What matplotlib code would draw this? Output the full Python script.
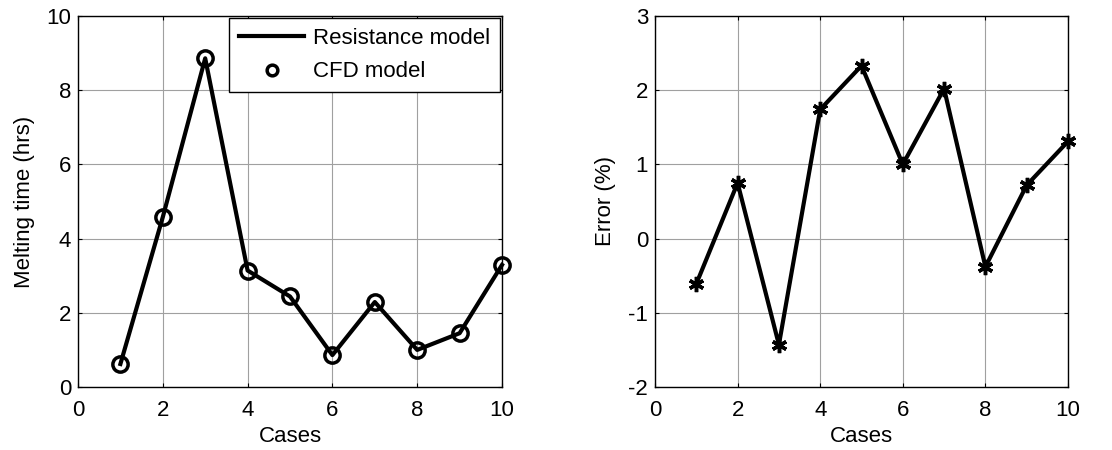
import numpy as np
import matplotlib
matplotlib.use("Agg")
import matplotlib.pyplot as plt

plt.rcParams['font.family'] = ['Liberation Sans', 'DejaVu Sans']
plt.rcParams['font.size'] = 16
plt.rcParams['axes.unicode_minus'] = False

cases = [1, 2, 3, 4, 5, 6, 7, 8, 9, 10]
melt_resistance = [0.62, 4.58, 8.86, 3.14, 2.44, 0.86, 2.29, 1.0, 1.45, 3.29]
melt_cfd = [0.62, 4.58, 8.86, 3.14, 2.44, 0.86, 2.29, 1.0, 1.45, 3.29]
error_pct = [-0.61, 0.75, -1.43, 1.74, 2.33, 1.0, 2.02, -0.38, 0.72, 1.31]

fig = plt.figure(figsize=(11.12, 4.5), dpi=100)
ax1 = fig.add_axes([78/1112, 1 - 387/450, 424/1112, 371/450])
ax2 = fig.add_axes([655/1112, 1 - 387/450, 413/1112, 371/450])


def matlab_style(ax):
    ax.grid(True, color='#a0a0a0', linewidth=0.8)
    ax.set_axisbelow(True)
    ax.tick_params(direction='in', top=True, right=True, length=3, width=0.8)
    ax.tick_params(axis='x', pad=9)
    ax.tick_params(axis='y', pad=5)
    for s in ax.spines.values():
        s.set_linewidth(1.0)


ax1.plot(cases, melt_resistance, color='black', linewidth=3, label='Resistance model', clip_on=False)
ax1.plot(cases, melt_cfd, linestyle='none', marker='o', markersize=11, markerfacecolor='none',
         markeredgecolor='black', markeredgewidth=2.5, label='CFD model', clip_on=False)
ax1.set_xlim(0, 10)
ax1.set_ylim(0, 10)
ax1.set_xticks(np.arange(0, 11, 2))
ax1.set_yticks(np.arange(0, 11, 2))
ax1.set_xlabel('Cases', labelpad=4)
ax1.set_ylabel('Melting time (hrs)', labelpad=8)
matlab_style(ax1)
leg = ax1.legend(loc='upper right', fancybox=False, edgecolor='black', framealpha=1,
                 borderaxespad=0.1, handlelength=2.9, handletextpad=0.4, labelspacing=0.55,
                 borderpad=0.45, markerscale=0.7, fontsize=16)
leg.get_frame().set_linewidth(1.0)

ax2.plot(cases, error_pct, color='black', linewidth=3, marker=(6, 2, 0), markersize=11,
         markeredgewidth=2.5, markeredgecolor='black', clip_on=False)
ax2.set_xlim(0, 10)
ax2.set_ylim(-2, 3)
ax2.set_xticks(np.arange(0, 11, 2))
ax2.set_yticks(np.arange(-2, 4, 1))
ax2.set_xlabel('Cases', labelpad=4)
ax2.set_ylabel('Error (%)', labelpad=9)
matlab_style(ax2)

fig.savefig('out.png', dpi=100)
